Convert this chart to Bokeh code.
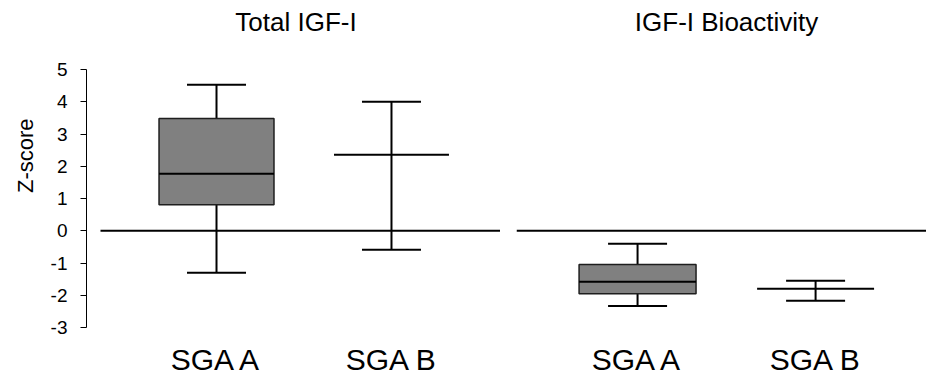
import numpy as np
from bokeh.plotting import figure
from bokeh.models import (Range1d, FixedTicker, ColumnDataSource, Whisker,
                          TeeHead, Title, Label)
from bokeh.layouts import row
from bokeh.embed import file_html
from bokeh.resources import INLINE

# ---------------- data ----------------
categories = ["SGA A", "SGA B"]
panel_titles = ["Total IGF-I", "IGF-I Bioactivity"]
y_axis_label = "Z-score"
y_ticks = [-3, -2, -1, 0, 1, 2, 3, 4, 5]

total_low = [-1.30, -0.59]
total_q1 = [0.81, np.nan]
total_median = [1.77, 2.36]
total_q3 = [3.48, np.nan]
total_high = [4.53, 4.00]

bio_low = [-2.33, -2.17]
bio_q1 = [-1.95, np.nan]
bio_median = [-1.58, -1.80]
bio_q3 = [-1.05, np.nan]
bio_high = [-0.40, -1.55]

# ---------------- style ----------------
FONT = "Liberation Sans"
BOX_W = 0.657
Y_MIN, Y_MAX = -3, 5
Y_TOP = 7.14          # room above the axis for the panel title
TITLE_Y = 6.48


def make_panel(title, low, q1, med, q3, high, x_start, x_end, frame_w,
               border_left, show_y, zero_start, title_dx):
    xs = np.arange(len(categories), dtype=float)
    src = ColumnDataSource(dict(
        x=xs, low=low, q1=q1, med=med, q3=q3, high=high,
        m0=xs - BOX_W / 2, m1=xs + BOX_W / 2))

    p = figure(frame_width=frame_w, frame_height=327,
               x_range=Range1d(x_start, x_end),
               y_range=Range1d(Y_MIN, Y_TOP),
               output_backend="svg", toolbar_location=None,
               y_axis_location="left" if show_y else None,
               min_border_left=border_left, min_border_right=0,
               min_border_top=0, min_border_bottom=49)
    p.outline_line_color = None
    p.grid.visible = False
    p.background_fill_color = "white"
    p.border_fill_color = "white"

    # panel title
    p.add_layout(Label(x=float(xs.mean()), y=TITLE_Y, x_offset=title_dx,
                       text=title, text_align="center",
                       text_baseline="alphabetic", text_font=FONT,
                       text_font_size="26px", text_color="black"))

    # zero reference line
    p.segment(x0=zero_start, y0=0, x1=x_end, y1=0, line_color="black",
              line_width=2)

    # whiskers with caps (under the boxes)
    wh = Whisker(source=src, base="x", lower="low", upper="high",
                 dimension="height", line_color="black", line_width=2,
                 upper_head=TeeHead(size=59, line_color="black", line_width=2),
                 lower_head=TeeHead(size=59, line_color="black", line_width=2),
                 level="underlay")
    p.add_layout(wh)

    # boxes
    p.vbar(x="x", width=BOX_W, bottom="q1", top="q3", source=src,
           fill_color="#808080", line_color="#1e1e1e", line_width=1.5)
    # medians
    p.segment(x0="m0", y0="med", x1="m1", y1="med", source=src,
              line_color="black", line_width=2)

    # category axis below
    xa = p.xaxis[0]
    xa.ticker = FixedTicker(ticks=list(range(len(categories))))
    xa.major_label_overrides = {i: c for i, c in enumerate(categories)}
    xa.axis_line_color = None
    xa.major_tick_line_color = None
    xa.minor_tick_line_color = None
    xa.major_label_standoff = 9
    xa.major_label_text_font = FONT
    xa.major_label_text_font_size = "30px"
    xa.major_label_text_color = "black"

    if show_y:
        ax = p.yaxis[0]
        ax.bounds = (Y_MIN, Y_MAX)
        ax.ticker = FixedTicker(ticks=y_ticks)
        ax.major_label_overrides = {t: str(t) for t in y_ticks}
        ax.major_tick_in = 0
        ax.major_tick_out = 6
        ax.minor_tick_line_color = None
        ax.axis_line_color = "black"
        ax.major_tick_line_color = "black"
        ax.major_label_standoff = 13
        ax.major_label_text_font = FONT
        ax.major_label_text_font_size = "19px"
        ax.major_label_text_color = "black"
        ylab = Title(text=y_axis_label, align="right", offset=118,
                     text_font=FONT, text_font_size="22px",
                     text_font_style="normal", text_color="black",
                     standoff=19)
        p.add_layout(ylab, "left")
    return p


left = make_panel(panel_titles[0], total_low, total_q1, total_median,
                  total_q3, total_high, -0.743, 1.623, 414, 86, True,
                  -0.663, -8)
right = make_panel(panel_titles[1], bio_low, bio_q1, bio_median,
                   bio_q3, bio_high, -0.680, 1.623, 410, 16, False,
                   -0.680, 0)

layout = row(left, right)
open("out.html", "w").write(file_html(layout, INLINE))
